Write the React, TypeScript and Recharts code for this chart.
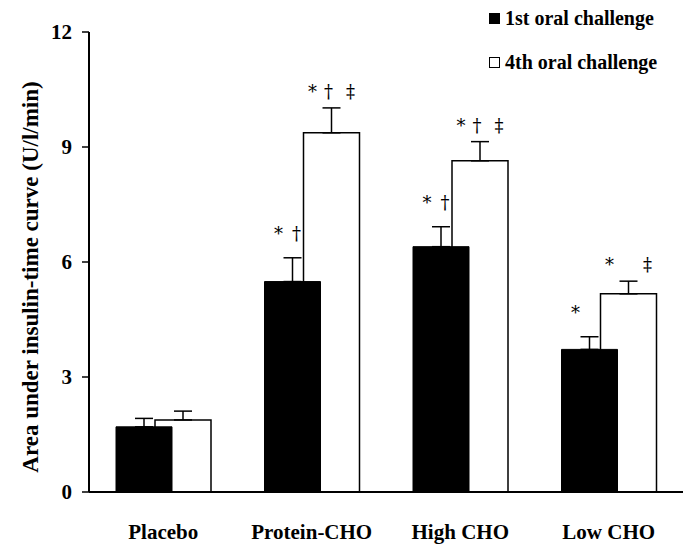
import React from 'react';
import { BarChart, Bar, XAxis, YAxis, ErrorBar, LabelList, Legend } from 'recharts';

const categories = ['Placebo', 'Protein-CHO', 'High CHO', 'Low CHO'];
const firstChallenge = [1.7, 5.49, 6.4, 3.72];
const firstError = [0.22, 0.62, 0.52, 0.33];
const fourthChallenge = [1.88, 9.37, 8.64, 5.17];
const fourthError = [0.23, 0.65, 0.5, 0.33];
const firstMarks = [[], ['*', '†'], ['*', '†'], ['*']];
const fourthMarks = [[], ['*', '†', '‡'], ['*', '†', '‡'], ['*', '‡']];
const yTicks = [0, 3, 6, 9, 12];
const seriesNames = ['1st oral challenge', '4th oral challenge'];

const FONT = '"Liberation Serif", "Times New Roman", serif';
const MARK_FONT = '"DejaVu Serif", serif';

const data = categories.map((name, i) => ({
  name,
  first: firstChallenge[i],
  firstErr: [0, firstError[i]],
  fourth: fourthChallenge[i],
  fourthErr: [0, fourthError[i]],
}));

// where each symbol sits across the bar width
const firstOffsets: Record<string, number> = { '*': 14, '†': 32 };
const fourthOffsets: Record<string, number> = { '*': 9, '†': 25, '‡': 47 };

const renderMarks =
  (marks: string[][], errs: number[], offsets: Record<string, number>, lift: number) =>
  (props: any) => {
    const { x, y, width, height, value, index } = props;
    const list = marks[index];
    if (!list || !list.length || !value) return null;
    const errTop = Number(y) - (errs[index] * Number(height)) / Number(value);
    return (
      <g>
        {list.map(s => (
          <text
            key={s}
            x={Number(x) + (offsets[s] ?? Number(width) / 2)}
            y={errTop - lift}
            textAnchor="middle"
            fontFamily={MARK_FONT}
            fontSize={18}
            fill="#000"
          >
            {s}
          </text>
        ))}
      </g>
    );
  };

const ChartLegend = () => (
  <div style={{ fontFamily: FONT, fontWeight: 'bold', fontSize: 20, color: '#000' }}>
    {seriesNames.map((n, i) => (
      <div key={n} style={{ display: 'flex', alignItems: 'center', height: 44 }}>
        <span
          style={{
            display: 'inline-block',
            width: 9,
            height: 9,
            border: '1px solid #000',
            background: i === 0 ? '#000' : '#fff',
            marginRight: 5,
          }}
        />
        <span>{n}</span>
      </div>
    ))}
  </div>
);

const App = () => {
  return (
    <div style={{ position: 'absolute', left: 0, top: 0, background: '#fff' }}>
      <BarChart
        width={688}
        height={544}
        data={data}
        margin={{ top: 32, right: 5, bottom: 0, left: 0 }}
        barGap={-17}
      >
        <XAxis
          xAxisId="a"
          dataKey="name"
          height={52}
          axisLine={{ stroke: '#000', strokeWidth: 2 }}
          tickLine={false}
          tickSize={0}
          tickMargin={32}
          tick={{ fill: '#000', fontFamily: FONT, fontWeight: 'bold', fontSize: 21 }}
          interval={0}
        />
        <XAxis xAxisId="b" dataKey="name" hide height={52} />
        <YAxis
          width={89}
          domain={[0, 12]}
          ticks={yTicks}
          interval={0}
          axisLine={{ stroke: '#000', strokeWidth: 2 }}
          tickLine={{ stroke: '#000', strokeWidth: 1.5 }}
          tickSize={7}
          tickMargin={10}
          tick={{ fill: '#000', fontFamily: FONT, fontWeight: 'bold', fontSize: 21 }}
          label={{
            content: ({ viewBox }: any) => {
              const cx = 30;
              const cy = viewBox.y + viewBox.height / 2 + 15;
              return (
                <text
                  x={cx}
                  y={cy}
                  transform={`rotate(-90, ${cx}, ${cy})`}
                  textAnchor="middle"
                  dominantBaseline="central"
                  fontFamily={FONT}
                  fontWeight="bold"
                  fontSize={23}
                  fill="#000"
                >
                  Area under insulin-time curve (U/l/min)
                </text>
              );
            },
          }}
        />
        <Legend
          layout="vertical"
          align="center"
          verticalAlign="middle"
          wrapperStyle={{ top: -4, left: 489, width: 200, height: 90 }}
          content={() => <ChartLegend />}
        />
        {/* white bars first so the black ones are painted over the overlap */}
        <Bar xAxisId="b" dataKey="first" barSize={56} fill="transparent" isAnimationActive={false} legendType="none" />
        <Bar
          xAxisId="b"
          dataKey="fourth"
          name={seriesNames[1]}
          barSize={56}
          fill="#fff"
          stroke="#000"
          strokeWidth={1.5}
          isAnimationActive={false}
        >
          <ErrorBar dataKey="fourthErr" direction="y" width={9} stroke="#000" strokeWidth={1.5} />
          <LabelList dataKey="fourth" content={renderMarks(fourthMarks, fourthError, fourthOffsets, 10)} />
        </Bar>
        <Bar
          xAxisId="a"
          dataKey="first"
          name={seriesNames[0]}
          barSize={56}
          fill="#000"
          stroke="#000"
          strokeWidth={1}
          isAnimationActive={false}
        >
          <ErrorBar dataKey="firstErr" direction="y" width={9} stroke="#000" strokeWidth={1.5} />
          <LabelList dataKey="first" content={renderMarks(firstMarks, firstError, firstOffsets, 18)} />
        </Bar>
        <Bar xAxisId="a" dataKey="fourth" barSize={56} fill="transparent" isAnimationActive={false} legendType="none" />
      </BarChart>
    </div>
  );
};

export default App;
